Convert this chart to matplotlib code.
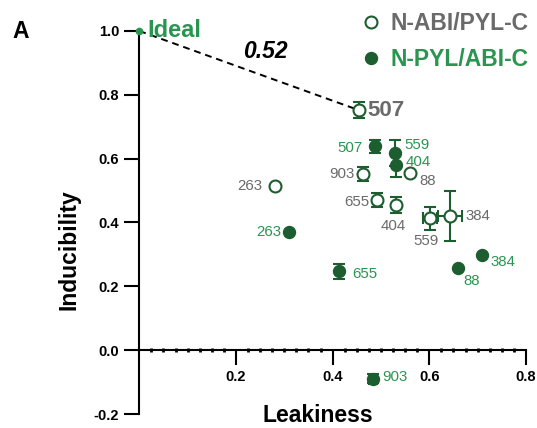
import numpy as np
import matplotlib
matplotlib.use('Agg')
import matplotlib.pyplot as plt
from matplotlib.lines import Line2D

plt.rcParams['font.family'] = ['Liberation Sans', 'DejaVu Sans']

# N-ABI/PYL-C (circulos abertos)
abi_nomes = ['507', '903', '88', '263', '655', '404', '559', '384']
abi_leak = [0.454, 0.462, 0.560, 0.281, 0.491, 0.532, 0.601, 0.643]
abi_ind = [0.752, 0.553, 0.555, 0.515, 0.470, 0.454, 0.413, 0.421]
abi_ind_err = [0.025, 0.022, 0.0, 0.0, 0.022, 0.025, 0.036, 0.078]
abi_leak_err = [0.0, 0.0, 0.0, 0.0, 0.0, 0.0, 0.015, 0.024]

# N-PYL/ABI-C (circulos cheios)
pyl_nomes = ['507', '559', '404', '263', '655', '88', '384', '903']
pyl_leak = [0.487, 0.529, 0.532, 0.310, 0.414, 0.660, 0.709, 0.483]
pyl_ind = [0.639, 0.617, 0.579, 0.370, 0.247, 0.258, 0.297, -0.089]
pyl_ind_err = [0.020, 0.040, 0.035, 0.0, 0.023, 0.0, 0.0, 0.015]
pyl_leak_err = [0.0, 0.0, 0.0, 0.0, 0.0, 0.0, 0.0, 0.008]

ideal = (0.0, 1.0)
melhor = 0  # indice do 507 aberto, o mais proximo do ideal

# deslocamento dos rotulos (pontos) e alinhamento
abi_off = [(6, 0, 'left'), (-6, 0, 'right'), (13, -5.5, 'center'), (-9, 0, 'right'),
           (-5, -1, 'right'), (-2, -15, 'center'), (-2.5, -16, 'center'), (11, -0.5, 'left')]
pyl_off = [(-8.4, -1, 'right'), (6.5, 6, 'left'), (6.7, 2.4, 'left'), (-6, 0, 'right'),
           (9.6, -1.7, 'left'), (9.6, -9.6, 'center'), (6.3, -4.8, 'left'), (6.5, 1, 'left')]

verde_esc = '#1c5e30'
verde = '#2a9550'
cinza = '#6a6a6a'

fig = plt.figure(figsize=(5.37, 4.28), dpi=100)
ax = fig.add_axes([0.2594, 0.0327, 0.720, 0.895])

# linha tracejada ideal -> melhor
ax.plot([ideal[0], abi_leak[melhor]], [ideal[1], abi_ind[melhor]], ls='--', color='black',
        lw=1.4, dashes=(3.5, 2.5), zorder=1)
dist = np.hypot(abi_leak[melhor] - ideal[0], abi_ind[melhor] - ideal[1])
ax.text(0.26, 0.936, '%.2f' % dist, fontsize=16.5, fontweight='bold', fontstyle='italic',
        ha='center', va='center')

ax.errorbar(pyl_leak, pyl_ind, yerr=pyl_ind_err, xerr=pyl_leak_err, fmt='o', ms=8.6,
            mfc=verde_esc, mec=verde_esc, ecolor=verde_esc, elinewidth=1.5, capsize=4.3,
            capthick=1.5, zorder=3, clip_on=False)
ax.errorbar(abi_leak, abi_ind, yerr=abi_ind_err, xerr=abi_leak_err, fmt='o', ms=8.6,
            mfc='white', mec=verde_esc, mew=1.5, ecolor=verde_esc, elinewidth=1.5,
            capsize=4.3, capthick=1.5, zorder=4, clip_on=False)

ax.plot(*ideal, 'o', ms=4.5, color=verde, clip_on=False, zorder=5)
ax.annotate('Ideal', ideal, xytext=(6, 0), textcoords='offset points', ha='left',
            va='center', fontsize=17, fontweight='bold', color=verde)

for i, nome in enumerate(abi_nomes):
    dx, dy, ha = abi_off[i]
    if i == melhor:
        ax.annotate(nome, (abi_leak[i], abi_ind[i]), xytext=(dx, dy), textcoords='offset points',
                    ha=ha, va='center', fontsize=16, fontweight='bold', color=cinza)
    else:
        ax.annotate(nome, (abi_leak[i], abi_ind[i]), xytext=(dx, dy), textcoords='offset points',
                    ha=ha, va='center', fontsize=10.8, color=cinza)

for i, nome in enumerate(pyl_nomes):
    dx, dy, ha = pyl_off[i]
    ax.annotate(nome, (pyl_leak[i], pyl_ind[i]), xytext=(dx, dy), textcoords='offset points',
                ha=ha, va='center', fontsize=10.8, color=verde)

ax.set_xlim(0, 0.8)
ax.set_ylim(-0.2, 1.0)
ax.spines['top'].set_visible(False)
ax.spines['right'].set_visible(False)
ax.spines['bottom'].set_position(('data', 0))
ax.spines['left'].set_linewidth(1.5)
ax.spines['bottom'].set_linewidth(1.5)

ax.set_xticks([0.2, 0.4, 0.6, 0.8])
ax.set_xticks(np.arange(0.025, 0.8, 0.025), minor=True)
ax.set_yticks([-0.2, 0.0, 0.2, 0.4, 0.6, 0.8, 1.0])
ax.set_xticklabels(['0.2', '0.4', '0.6', '0.8'])
ax.set_yticklabels(['-0.2', '0.0', '0.2', '0.4', '0.6', '0.8', '1.0'])
ax.tick_params(axis='both', which='major', length=11, width=1.5, pad=3.6,
               labelsize=10.5)
ax.tick_params(axis='x', which='minor', direction='inout', length=3.5, width=2)
for t in ax.get_xticklabels() + ax.get_yticklabels():
    t.set_fontweight('bold')

ax.set_xlabel('Leakiness', fontsize=16.5, fontweight='bold')
ax.xaxis.set_label_coords(0.462, 0.026)
ax.set_ylabel('Inducibility', fontsize=16.5, fontweight='bold')
ax.yaxis.set_label_coords(-0.151, 0.428)

handles = [Line2D([], [], ls='none', marker='o', ms=8.6, mfc='white', mec=verde_esc, mew=1.5),
           Line2D([], [], ls='none', marker='o', ms=8.6, mfc=verde_esc, mec=verde_esc)]
leg = ax.legend(handles, ['N-ABI/PYL-C', 'N-PYL/ABI-C'], loc='upper left',
                bbox_to_anchor=(0.674, 0.973), bbox_transform=fig.transFigure,
                frameon=False, handlelength=0.8, handletextpad=0.45, labelspacing=0.6,
                prop={'size': 16.5, 'weight': 'bold'}, borderaxespad=0, borderpad=0)
leg.get_texts()[0].set_color(cinza)
leg.get_texts()[1].set_color(verde)

fig.text(0.039, 0.926, 'A', fontsize=16.5, fontweight='bold', ha='center', va='center')

fig.savefig('out.png', dpi=100)
